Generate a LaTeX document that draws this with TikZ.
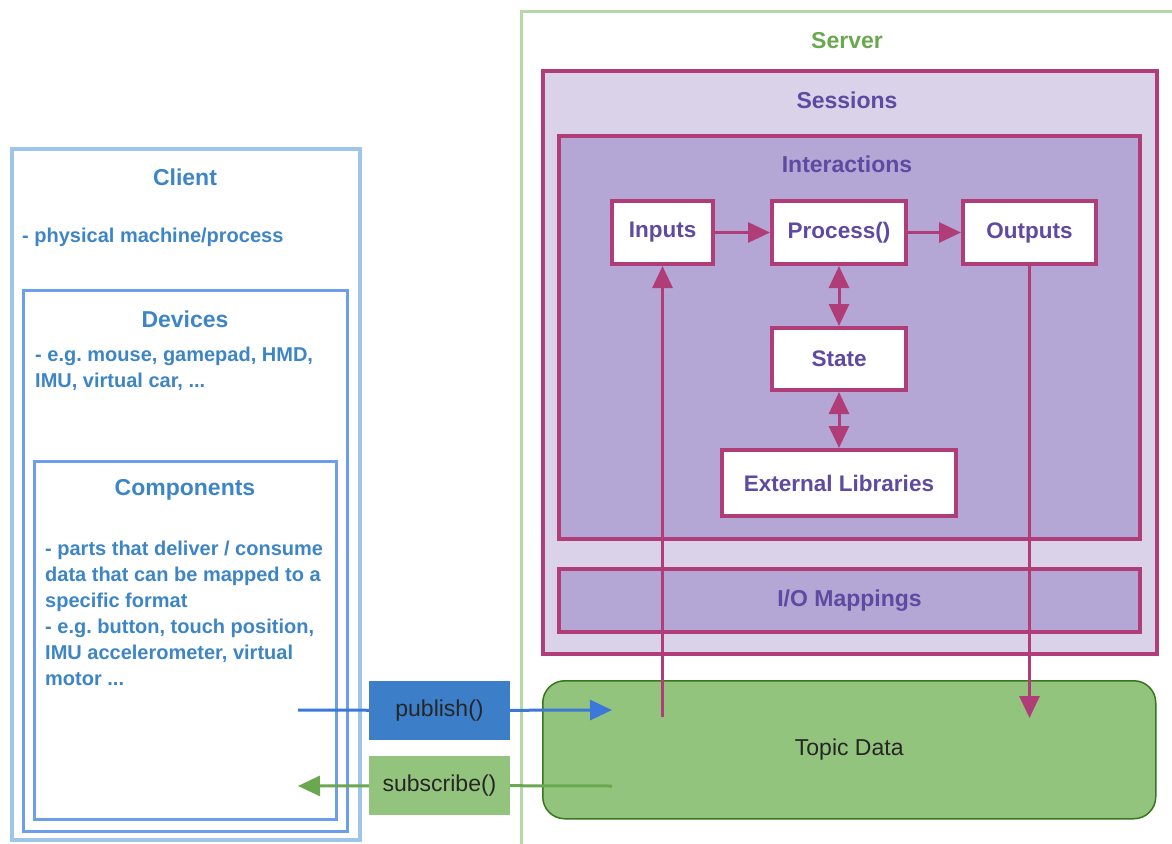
\documentclass[tikz,border=0pt]{standalone}
\usepackage{fontspec}
\setmainfont{Liberation Sans}
\usetikzlibrary{positioning,arrows.meta}
\definecolor{clientblue}{HTML}{9FC5E8}
\definecolor{deviceblue}{HTML}{6D9EEB}
\definecolor{bluetext}{HTML}{3D85C6}
\definecolor{servergreen}{HTML}{B6D7A8}
\definecolor{greentext}{HTML}{6AA84F}
\definecolor{sessionfill}{HTML}{D9D2E9}
\definecolor{interfill}{HTML}{B4A7D6}
\definecolor{rim}{HTML}{B03C78}
\definecolor{purpletext}{HTML}{5E4AA0}
\definecolor{topicfill}{HTML}{93C47D}
\definecolor{topicrim}{HTML}{38761D}
\definecolor{pubfill}{HTML}{3D7EC9}
\definecolor{publine}{HTML}{3C78D8}
\definecolor{subline}{HTML}{6AA84F}
\tikzstyle{frame} = [anchor=north west, inner sep=0]
\tikzstyle{title} = [font=\fontsize{23}{27}\selectfont\bfseries]
\tikzstyle{body} = [font=\fontsize{20}{26}\selectfont\bfseries, text=bluetext, align=left, anchor=north west, inner sep=0]
\tikzstyle{block} = [draw=rim, line width=4pt, fill=white, inner sep=0, font=\fontsize{22.5}{26}\selectfont\bfseries, text=purpletext]
\tikzstyle{call} = [inner sep=0, minimum width=141pt, minimum height=59pt, font=\fontsize{23}{27}\selectfont, text=black!85]
\tikzstyle{arrow} = [line width=3pt, -{Triangle[length=22pt,width=20pt]}]
\tikzstyle{twoway} = [line width=3pt, {Triangle[length=22pt,width=20pt]}-{Triangle[length=22pt,width=20pt]}]

\begin{document}
\begin{tikzpicture}[x=1pt,y=-1pt]
    \useasboundingbox (0,0) rectangle (1172,843);

    \node (client) [frame, draw=clientblue, line width=3.5pt, minimum width=348pt, minimum height=691pt] at (10,147) {};
    \node (clienttitle) [title, text=bluetext] at (185,177) {Client};
    \node (clientnote) [body] at (22,228) {- physical machine/process};

    \node (devices) [frame, draw=deviceblue, line width=3pt, minimum width=324pt, minimum height=541pt] at (22,289) {};
    \node (devicestitle) [title, text=bluetext] at (185,319) {Devices};
    \node (devicesnote) [body] at (35,347) {- e.g.\ mouse, gamepad, HMD,\\IMU, virtual car, ...};

    \node (components) [frame, draw=deviceblue, line width=3pt, minimum width=302pt, minimum height=358pt] at (33,460) {};
    \node (componentstitle) [title, text=bluetext] at (185,490) {Components};
    \node (componentsnote) [body] at (45,541) {- parts that deliver / consume\\data that can be mapped to a\\specific format\\- e.g.\ button, touch position,\\IMU accelerometer, virtual\\motor ...};

    \node (server) [frame, draw=servergreen, line width=3pt, minimum width=670pt, minimum height=850pt] at (520,10) {};
    \node (servertitle) [title, text=greentext] at (847,41) {Server};

    \node (sessions) [frame, draw=rim, fill=sessionfill, line width=4pt, minimum width=614pt, minimum height=583pt] at (541,69) {};
    \node (sessionstitle) [title, text=purpletext] at (847,100) {Sessions};

    \node (interactions) [frame, draw=rim, fill=interfill, line width=4pt, minimum width=581pt, minimum height=403pt] at (557,134) {};
    \node (interactionstitle) [title, text=purpletext] at (847,164) {Interactions};

    \node (inputs) [block, minimum width=101pt, minimum height=63pt] at (662.5,232.5) {Inputs};
    \node (process) [block, minimum width=134pt, minimum height=63pt] at (839,232.5) {Process()};
    \node (outputs) [block, minimum width=133pt, minimum height=63pt] at (1029.5,232.5) {Outputs};
    \node (state) [block, minimum width=134pt, minimum height=62pt] at (839,359) {State};
    \node (extlib) [block, minimum width=234pt, minimum height=66pt] at (839,483) {External Libraries};

    \node (mappings) [frame, draw=rim, fill=interfill, line width=4pt, minimum width=581pt, minimum height=63pt, title, text=purpletext] at (557,567) {I/O Mappings};

    \node (topic) [frame, draw=topicrim, fill=topicfill, line width=1.5pt, rounded corners=22pt, minimum width=613pt, minimum height=138pt, font=\fontsize{23}{27}\selectfont, text=black!85] at (542,680) {Topic Data};

    \node (pub) [call, fill=pubfill] at (439.5,710.5) {publish()};
    \node (sub) [call, fill=topicfill] at (439.5,785.5) {subscribe()};

    \coordinate (pubfrom) at (298,710);
    \coordinate (pubto) at (612,710);
    \draw [line width=3pt, publine] (pubfrom) -- (pub);
    \draw [arrow, publine] (pub) -- (pubto);

    \coordinate (subfrom) at (612,786);
    \coordinate (subto) at (298,786);
    \draw [line width=3pt, subline] (subfrom) -- (sub);
    \draw [arrow, subline] (sub) -- (subto);

    \draw [arrow, rim] (inputs) -- (process);
    \draw [arrow, rim] (process) -- (outputs);
    \draw [twoway, rim] (process) -- (state);
    \draw [twoway, rim] (state) -- (extlib);

    \coordinate (infrom) at (662.5,717);
    \draw [arrow, rim] (infrom) -- (inputs);
    \coordinate (outto) at (1029.5,718);
    \draw [arrow, rim] (outputs) -- (outto);

  \end{tikzpicture}
\end{document}
